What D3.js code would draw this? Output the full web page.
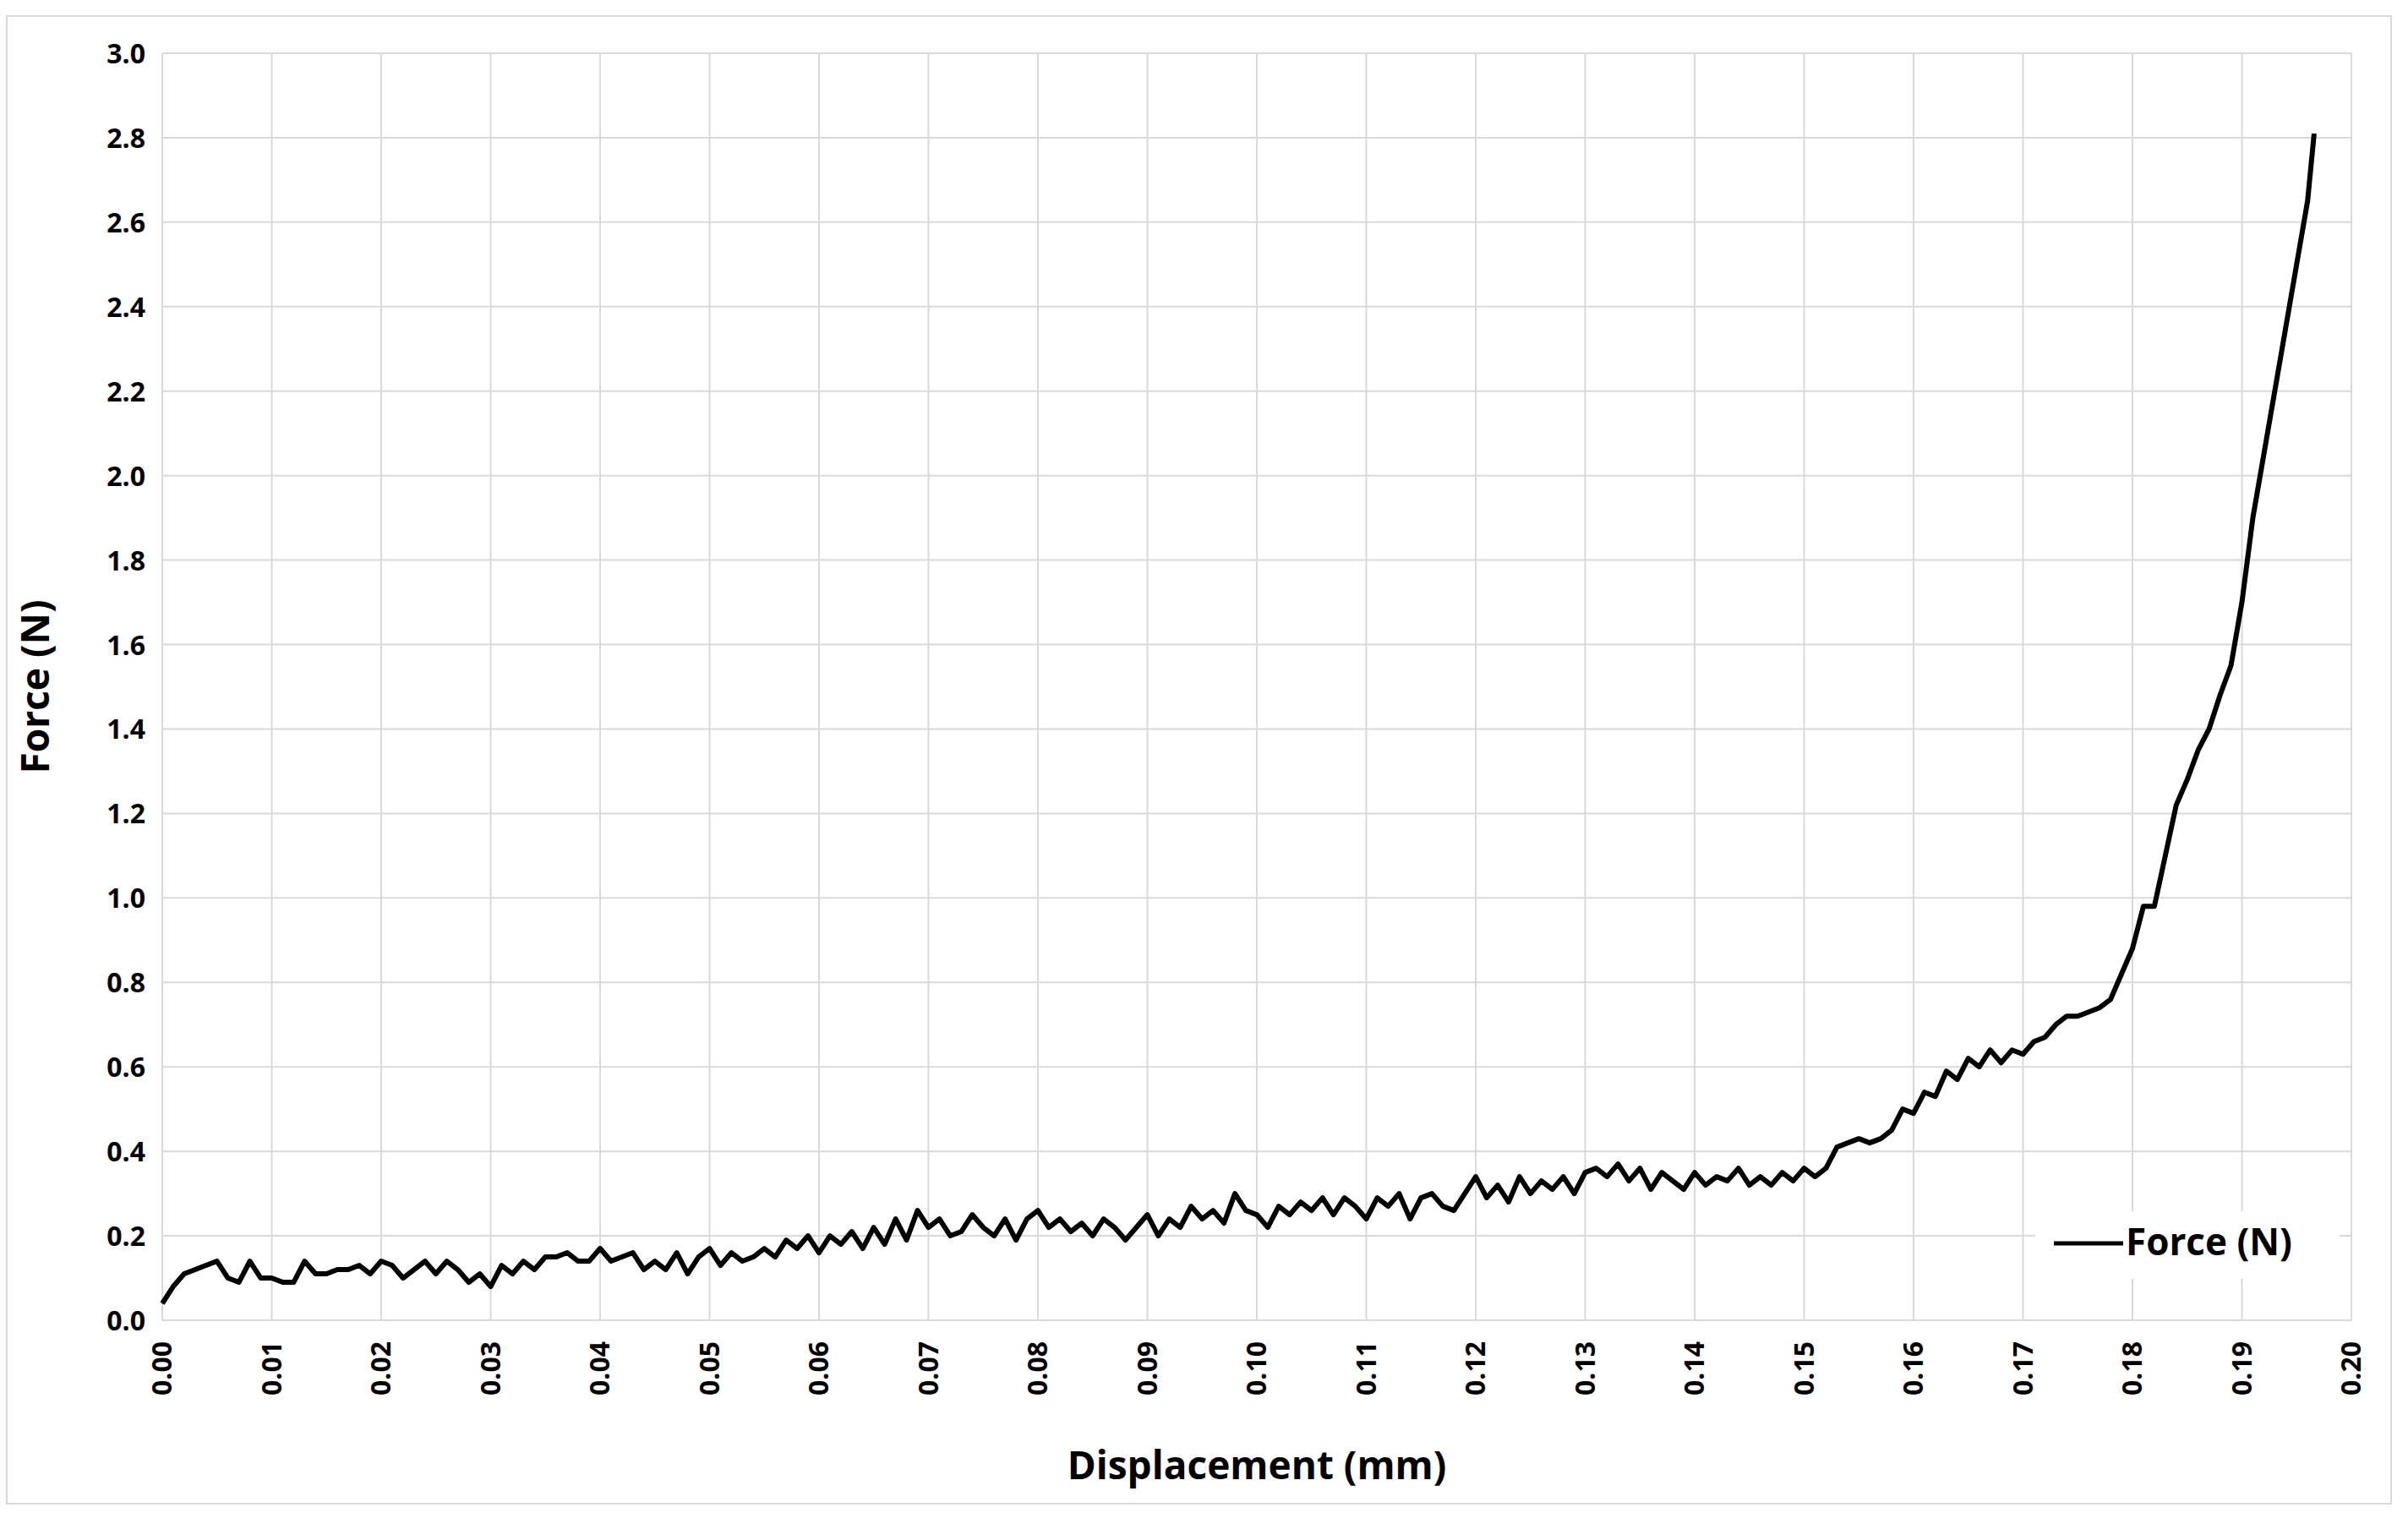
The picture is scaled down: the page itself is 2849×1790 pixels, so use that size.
<!DOCTYPE html>
<html><head><meta charset="utf-8">
<script src="https://cdn.jsdelivr.net/npm/d3@7"></script>
<style>body{margin:0;background:#fff}</style></head>
<body><svg width="2849" height="1790"></svg>
<script>
// force readings, one per 0.001 mm from 0.000, last point at 0.1966
const force = [0.04,0.08,0.11,0.12,0.13,0.14,0.10,0.09,0.14,0.10,
0.10,0.09,0.09,0.14,0.11,0.11,0.12,0.12,0.13,0.11,
0.14,0.13,0.10,0.12,0.14,0.11,0.14,0.12,0.09,0.11,
0.08,0.13,0.11,0.14,0.12,0.15,0.15,0.16,0.14,0.14,
0.17,0.14,0.15,0.16,0.12,0.14,0.12,0.16,0.11,0.15,
0.17,0.13,0.16,0.14,0.15,0.17,0.15,0.19,0.17,0.20,
0.16,0.20,0.18,0.21,0.17,0.22,0.18,0.24,0.19,0.26,
0.22,0.24,0.20,0.21,0.25,0.22,0.20,0.24,0.19,0.24,
0.26,0.22,0.24,0.21,0.23,0.20,0.24,0.22,0.19,0.22,
0.25,0.20,0.24,0.22,0.27,0.24,0.26,0.23,0.30,0.26,
0.25,0.22,0.27,0.25,0.28,0.26,0.29,0.25,0.29,0.27,
0.24,0.29,0.27,0.30,0.24,0.29,0.30,0.27,0.26,0.30,
0.34,0.29,0.32,0.28,0.34,0.30,0.33,0.31,0.34,0.30,
0.35,0.36,0.34,0.37,0.33,0.36,0.31,0.35,0.33,0.31,
0.35,0.32,0.34,0.33,0.36,0.32,0.34,0.32,0.35,0.33,
0.36,0.34,0.36,0.41,0.42,0.43,0.42,0.43,0.45,0.50,
0.49,0.54,0.53,0.59,0.57,0.62,0.60,0.64,0.61,0.64,
0.63,0.66,0.67,0.70,0.72,0.72,0.73,0.74,0.76,0.82,
0.88,0.98,0.98,1.10,1.22,1.28,1.35,1.40,1.48,1.55,
1.70,1.90,2.05,2.20,2.35,2.50,2.65,2.81];
const disp = force.map((d,i)=> i<force.length-1 ? i*0.001 : 0.1966);
const xTicks = d3.range(0,21).map(i=>i/100);
const yTicks = d3.range(0,16).map(i=>i/5);

const svg = d3.select("svg");
const font = "Open Sans, sans-serif";
const L=192,R=2782,T=63,B=1562;
const x = d3.scaleLinear().domain([0,0.2]).range([L,R]);
const y = d3.scaleLinear().domain([0,3]).range([B,T]);

svg.append("rect").attr("x",8).attr("y",19).attr("width",2821).attr("height",1760)
  .attr("fill","none").attr("stroke","#d9d9d9").attr("stroke-width",2);

svg.append("g").selectAll("line").data(yTicks).enter().append("line")
  .attr("x1",L).attr("x2",R).attr("y1",d=>y(d)).attr("y2",d=>y(d))
  .attr("stroke","#d9d9d9").attr("stroke-width",2);
svg.append("g").selectAll("line").data(xTicks).enter().append("line")
  .attr("y1",T).attr("y2",B).attr("x1",d=>x(d)).attr("x2",d=>x(d))
  .attr("stroke","#d9d9d9").attr("stroke-width",2);

svg.append("g").selectAll("text").data(yTicks).enter().append("text")
  .attr("x",L-20).attr("y",d=>y(d)+12).attr("text-anchor","end")
  .attr("font-family",font).attr("font-weight","bold").attr("font-size",32)
  .attr("fill","#000").text(d=>d.toFixed(1));
svg.append("g").selectAll("text").data(xTicks).enter().append("text")
  .attr("transform",d=>`translate(${x(d)+11},${B+25}) rotate(-90)`)
  .attr("text-anchor","end")
  .attr("font-family",font).attr("font-weight","bold").attr("font-size",32)
  .attr("fill","#000").text(d=>d.toFixed(2));

svg.append("path").datum(disp.map((d,i)=>[d,force[i]]))
  .attr("d",d3.line().x(d=>x(d[0])).y(d=>y(d[1])))
  .attr("fill","none").attr("stroke","#000").attr("stroke-width",6)
  .attr("stroke-linejoin","round");

svg.append("text").attr("x",(L+R)/2).attr("y",1750).attr("text-anchor","middle")
  .attr("font-family",font).attr("font-weight","bold").attr("font-size",46)
  .text("Displacement (mm)");
svg.append("text").attr("transform",`translate(58,${(T+B)/2}) rotate(-90)`)
  .attr("text-anchor","middle")
  .attr("font-family",font).attr("font-weight","bold").attr("font-size",46)
  .text("Force (N)");

// legend
svg.append("rect").attr("x",2408).attr("y",1433).attr("width",360).attr("height",80).attr("fill","#fff");
svg.append("line").attr("x1",2430).attr("x2",2512).attr("y1",1471).attr("y2",1471)
  .attr("stroke","#000").attr("stroke-width",5);
svg.append("text").attr("x",2515).attr("y",1485)
  .attr("font-family",font).attr("font-weight","bold").attr("font-size",44)
  .text("Force (N)");
</script></body></html>
